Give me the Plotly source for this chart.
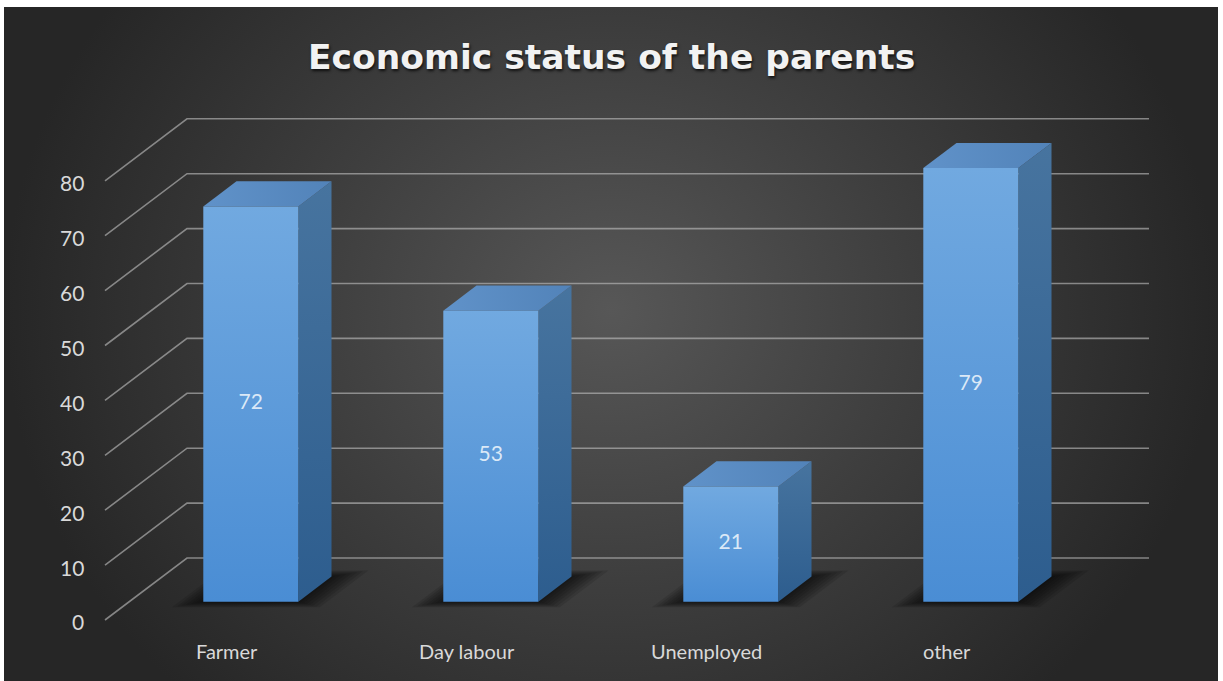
import base64
import plotly.graph_objects as go

# ---- data -------------------------------------------------------------
categories = ["Farmer", "Day labour", "Unemployed", "other"]
counts = [72, 53, 21, 79]
tick_values = [0, 10, 20, 30, 40, 50, 60, 70, 80]
title_text = "Economic status of the parents"

# ---- canvas / scale ---------------------------------------------------
W, H = 1223, 681
PX_PER_CAT = 240.0      # horizontal distance between category centres
PX_PER_UNIT = 5.49      # vertical pixels per value unit
X0_PX = 250.8           # pixel x of category 0 (front face centre)
Y0_PX = 601.7           # pixel y of value 0 on the bar front plane

x_range = [-X0_PX / PX_PER_CAT, (W - X0_PX) / PX_PER_CAT]
y_range = [-(H - Y0_PX) / PX_PER_UNIT, Y0_PX / PX_PER_UNIT]

# oblique projection of the depth axis (t = 0 front of the box, t = 1 back wall)
DX = 82.0 / PX_PER_CAT
DY = 62.0 / PX_PER_UNIT
T_FRONT, T_BACK = 0.295, 0.70      # depth slice occupied by the bars
HALF_W = 95.0 / PX_PER_CAT / 2     # half width of a bar front face
WALL_X = -0.5067                   # left wall in category units
RIGHT_X = 3.5016                   # right end of the back-wall grid


def proj(x, v, t):
    """Project a point (x, value, depth) onto the bar front plane."""
    return x + (t - T_FRONT) * DX, v + (t - T_FRONT) * DY


def poly(points):
    xs, ys = [], []
    for x, v, t in points:
        px, py = proj(x, v, t)
        xs.append(px)
        ys.append(py)
    xs.append(xs[0])
    ys.append(ys[0])
    return xs, ys


fig = go.Figure()

# ---- gridlines: side wall diagonals + back wall horizontals -----------
gx, gy = [], []
for v in tick_values:
    for x, t in [(WALL_X, 0.0), (WALL_X, 1.0), (RIGHT_X, 1.0)]:
        px, py = proj(x, v, t)
        gx.append(px)
        gy.append(py)
    gx.append(None)
    gy.append(None)
fig.add_trace(go.Scatter(x=gx, y=gy, mode="lines",
                         line=dict(color="rgba(190,190,190,0.62)", width=1.6),
                         hoverinfo="skip"))

# ---- soft floor shadows (many faint layers to fake a blur) ------------
for i, v in enumerate(counts):
    for k in (1.0, 0.85, 0.7, 0.55, 0.4, 0.25, 0.1):
        xl = i - HALF_W - 0.10 * k
        xr = i + HALF_W + 0.12 * k
        tf = T_FRONT - 0.09 * k
        tb = T_BACK + 0.10 * k
        sx, sy = poly([(xl, 0, tf), (xr, 0, tf), (xr, 0, tb), (xl, 0, tb)])
        fig.add_trace(go.Scatter(x=sx, y=sy, mode="lines", fill="toself",
                                 fillcolor="rgba(0,0,0,0.11)",
                                 line=dict(width=0), hoverinfo="skip"))

# ---- bars: side, top and front faces ----------------------------------
for i, v in enumerate(counts):
    xl, xr = i - HALF_W, i + HALF_W

    sx, sy = poly([(xr, 0, T_FRONT), (xr, v, T_FRONT), (xr, v, T_BACK), (xr, 0, T_BACK)])
    fig.add_trace(go.Scatter(x=sx, y=sy, mode="lines", fill="toself",
                             fillgradient=dict(type="vertical",
                                               colorscale=[[0, "#2d5d8e"], [1, "#47749f"]]),
                             line=dict(width=0), hoverinfo="skip"))

    tx, ty = poly([(xl, v, T_FRONT), (xr, v, T_FRONT), (xr, v, T_BACK), (xl, v, T_BACK)])
    fig.add_trace(go.Scatter(x=tx, y=ty, mode="lines", fill="toself",
                             fillgradient=dict(type="horizontal",
                                               colorscale=[[0, "#6092c9"], [1, "#5283b9"]]),
                             line=dict(width=0), hoverinfo="skip"))

    fx, fy = poly([(xl, 0, T_FRONT), (xr, 0, T_FRONT), (xr, v, T_FRONT), (xl, v, T_FRONT)])
    fig.add_trace(go.Scatter(x=fx, y=fy, mode="lines", fill="toself",
                             fillgradient=dict(type="vertical",
                                               colorscale=[[0, "#4a8dd4"], [1, "#71a9e0"]]),
                             line=dict(width=0), hoverinfo="skip"))

# ---- value labels centred on each front face --------------------------
fig.add_trace(go.Scatter(x=list(range(len(counts))), y=[v / 2 for v in counts],
                         mode="text", text=[str(v) for v in counts],
                         textfont=dict(family="Lato", size=21, color="#dbe9f7"),
                         hoverinfo="skip"))

annotations = []

# value axis labels on the front edge of the side wall
for v in tick_values:
    px, py = proj(WALL_X, v, 0.0)
    annotations.append(dict(x=px, y=py, xref="x", yref="y", text=str(v),
                            showarrow=False, xanchor="right", yanchor="middle",
                            xshift=-19, yshift=-2,
                            font=dict(family="Lato", size=21, color="#d9d9d9")))

# category labels along the front of the floor
for i, name in enumerate(categories):
    px, _ = proj(i, 0, 0.0)
    annotations.append(dict(x=px, y=-9.0, xref="x", yref="y", text=name,
                            showarrow=False, xanchor="center", yanchor="middle",
                            font=dict(family="Lato", size=20, color="#d9d9d9")))

# chart title
annotations.append(dict(x=0.5, y=1 - 57 / H, xref="paper", yref="paper",
                        text=title_text, showarrow=False,
                        xanchor="center", yanchor="middle",
                        font=dict(family="DejaVu Sans", size=34.5, color="#f2f2f2", weight=700,
                                  shadow="1px 2px 3px rgba(0,0,0,0.75)")))

# ---- dark radial backdrop --------------------------------------------
BG_L, BG_T, BG_R = 4, 7, 1218
bg_w, bg_h = BG_R - BG_L, H - BG_T
svg = (
    f'<svg xmlns="http://www.w3.org/2000/svg" width="{bg_w}" height="{bg_h}" '
    f'viewBox="0 0 {bg_w} {bg_h}" preserveAspectRatio="none">'
    '<defs><radialGradient id="g" cx="0.5" cy="0.45" r="0.5" '
    'gradientTransform="translate(0.5 0.45) scale(1 1.6) translate(-0.5 -0.45)">'
    '<stop offset="0" stop-color="#575757"/>'
    '<stop offset="0.5" stop-color="#3e3e3e"/>'
    '<stop offset="1" stop-color="#262626"/>'
    '</radialGradient></defs>'
    f'<rect width="{bg_w}" height="{bg_h}" fill="url(#g)"/></svg>'
)
bg_uri = "data:image/svg+xml;base64," + base64.b64encode(svg.encode()).decode()

fig.update_layout(
    width=W, height=H,
    margin=dict(l=0, r=0, t=0, b=0),
    showlegend=False,
    paper_bgcolor="white",
    plot_bgcolor="rgba(0,0,0,0)",
    xaxis=dict(range=x_range, visible=False, fixedrange=True),
    yaxis=dict(range=y_range, visible=False, fixedrange=True),
    annotations=annotations,
    images=[dict(source=bg_uri, xref="paper", yref="paper",
                 x=BG_L / W, y=1 - BG_T / H, sizex=bg_w / W, sizey=bg_h / H,
                 xanchor="left", yanchor="top", sizing="stretch", layer="below")],
)

fig.write_html("out.html", config={"displayModeBar": False})
